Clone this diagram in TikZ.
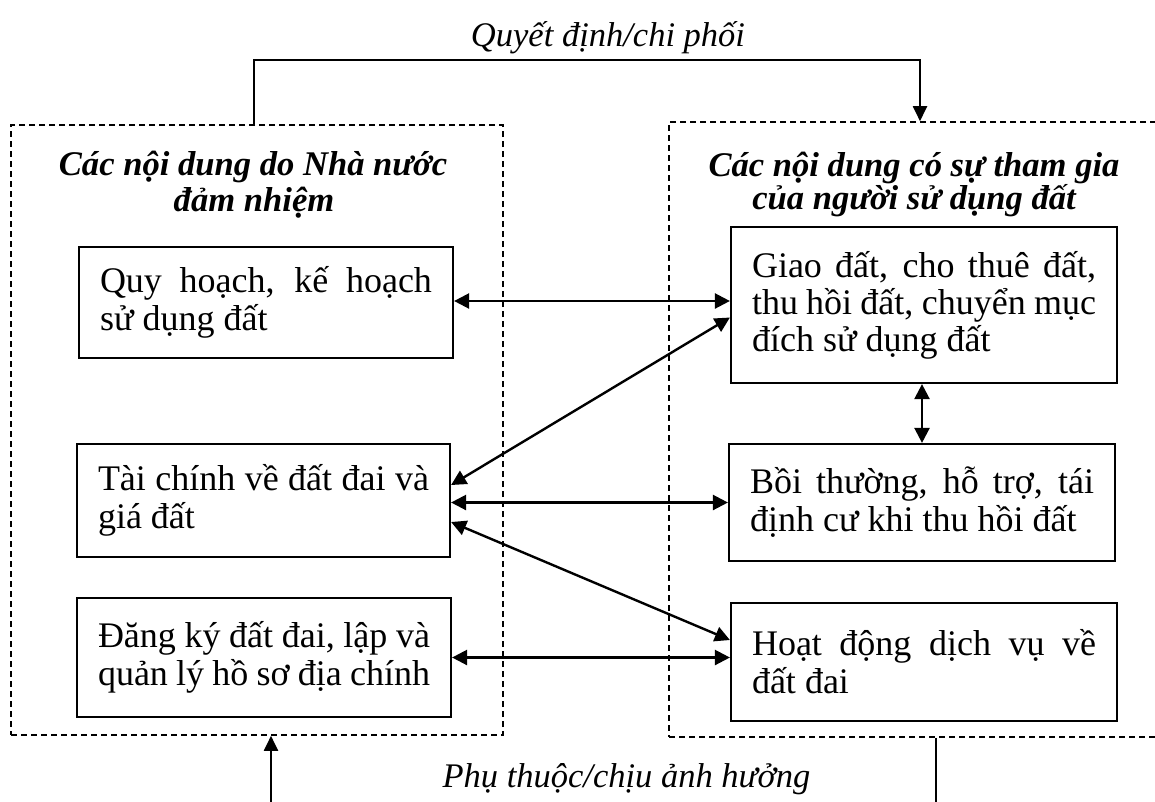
\documentclass[tikz,border=0pt]{standalone}
\usepackage{fontspec}
\setmainfont{Liberation Serif}
\usetikzlibrary{arrows.meta,calc}
\begin{document}
\hyphenpenalty=10000 \exhyphenpenalty=10000
\begin{tikzpicture}[x=1pt,y=-1pt,
  every node/.style={font=\fontsize{36}{38}\selectfont},
  box/.style={draw, line width=2.2pt, rectangle, inner xsep=21pt, inner ysep=0pt, align=justify},
  grp/.style={draw, line width=1.6pt, dash pattern=on 6pt off 4pt, rectangle, inner sep=0pt},
  arr/.style={line width=2.4pt, {Triangle[length=15pt,width=15pt]}-{Triangle[length=15pt,width=15pt]}},
  conn/.style={line width=2pt},
  conntip/.style={line width=2pt, -{Triangle[length=15pt,width=14pt]}},
  ttl/.style={font=\fontsize{34.6}{38}\selectfont\bfseries\itshape, anchor=base, inner sep=0pt},
  lbl/.style={font=\fontsize{34.5}{38}\selectfont\itshape, anchor=base, inner sep=0pt}
]
\useasboundingbox (0,0) rectangle (1155,801);
\clip (0,0) rectangle (1155,801);

% group boxes
\node[grp, minimum width=492pt, minimum height=610pt] (grpL) at (257,430) {};
\node[grp, minimum width=496pt, minimum height=615pt] (grpR) at (917,429.5) {};

% titles
\node[ttl] (tL1) at (253,175) {Các nội dung do Nhà nước};
\node[ttl] (tL2) at (254,211) {đảm nhiệm};
\node[ttl] (tR1) at (914,176) {Các nội dung có sự tham gia};
\node[ttl] (tR2) at (914,209) {của người sử dụng đất};

% content boxes
\node[box, text width=332pt, minimum height=111pt] (A) at (266,302.5)
  {Quy hoạch, kế hoạch\linebreak sử dụng đất};
\node[box, text width=331pt, minimum height=113pt] (B) at (263.5,500.5)
  {Tài chính về đất đai và\linebreak giá đất};
\node[box, text width=332pt, minimum height=119pt] (C) at (264,657.5)
  {Đăng ký đất đai, lập và\linebreak quản lý hồ sơ địa chính};
\node[box, text width=344pt, minimum height=156pt, font=\fontsize{36}{37}\selectfont] (D) at (924,305)
  {Giao đất, cho thuê đất,\linebreak thu hồi đất, chuyển mục\linebreak đích sử dụng đất};
\node[box, text width=344pt, minimum height=117pt] (E) at (922,502.5)
  {Bồi thường, hỗ trợ, tái\linebreak định cư khi thu hồi đất};
\node[box, text width=344pt, minimum height=118pt] (F) at (924,662)
  {Hoạt động dịch vụ về\linebreak đất đai};

% arrows between boxes
\draw[arr] ([yshift=1.5pt]A.east) -- ([yshift=1.5pt]A.east -| D.west);
\draw[arr] ([yshift=15.5pt]B.east) -- ([yshift=-12.5pt]D.west);
\draw[arr] ([yshift=-2pt]B.east) -- ([yshift=-2pt]B.east -| E.west);
\draw[arr] ([yshift=-21.5pt]B.east) -- ([yshift=22pt]F.west);
\draw[arr] (C.east) -- (C.east -| F.west);
\draw[arr] (D.south -| E.north) -- (E.north);

% top connector
\coordinate (topL) at (254,60);
\coordinate (topR) at (920,60);
\draw[conntip] (grpL.north -| topL) -- (topL) -- (topR) -- (topR |- grpR.north);
\node[lbl] (lblTop) at (608,46) {Quyết định/chi phối};

% bottom connector
\coordinate (botL) at (271,812);
\coordinate (botR) at (936,812);
\draw[conn] (grpR.south -| botR) -- (botR);
\draw[conntip] (botL) -- (grpL.south -| botL);
\node[lbl] (lblBot) at (626.5,787) {Phụ thuộc/chịu ảnh hưởng};
\end{tikzpicture}
\end{document}
